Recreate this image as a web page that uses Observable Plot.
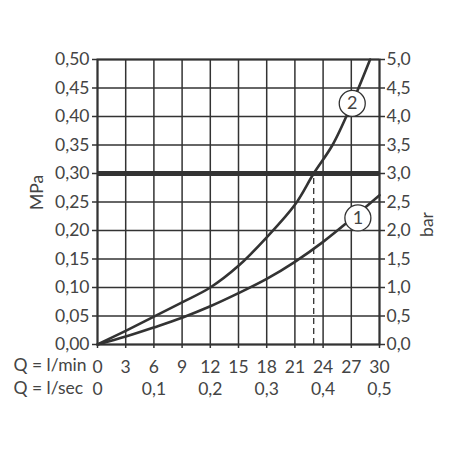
<!DOCTYPE html>
<html>
<head>
<meta charset="utf-8">
<script src="https://cdn.jsdelivr.net/npm/d3@7"></script>
<script src="https://cdn.jsdelivr.net/npm/@observablehq/plot@0.6"></script>
<style>
  body { margin: 0; background: #fff; }
</style>
</head>
<body>
<div id="chart"></div>
<script>
// Flow ticks (l/min) and their l/sec equivalents
const qTicksLmin = [0, 3, 6, 9, 12, 15, 18, 21, 24, 27, 30];
const qTicksLsec = [0, 6, 12, 18, 24, 30];
const pTicks = [0, 0.05, 0.10, 0.15, 0.20, 0.25, 0.30, 0.35, 0.40, 0.45, 0.50];

// Curve 1
const curve1Q = [0, 3, 6, 9, 12, 15, 18, 21, 24, 27, 30];
const curve1P = [0, 0.014, 0.030, 0.047, 0.067, 0.090, 0.115, 0.145, 0.180, 0.220, 0.262];
// Curve 2
const curve2Q = [0, 3, 6, 9, 12, 15, 18, 21, 23, 25, 27, 29];
const curve2P = [0, 0.024, 0.049, 0.074, 0.100, 0.138, 0.188, 0.245, 0.300, 0.350, 0.420, 0.500];

// Reference line and marker
const refPressure = [0.30];
const refFlow = [23];

// Curve labels
const labelNames = ["1", "2"];
const labelQ = [27.7, 27.1];
const labelP = [0.222, 0.423];

const ink = "#333";
const textInk = "#444";

const c1 = curve1Q.map((q, i) => ({q, p: curve1P[i]}));
const c2 = curve2Q.map((q, i) => ({q, p: curve2P[i]}));
const labels = labelNames.map((t, i) => ({t, q: labelQ[i], p: labelP[i]}));

const comma = (v, d) => v.toFixed(d).replace(".", ",");

const chart = Plot.plot({
  width: 450,
  height: 450,
  marginLeft: 97,
  marginRight: 71,
  marginTop: 59,
  marginBottom: 106,
  style: {fontFamily: "Lato, 'DejaVu Sans', sans-serif", fontSize: "17.5px", color: textInk, background: "#fff"},
  x: {domain: [0, 30]},
  y: {domain: [0, 0.5]},
  marks: [
    Plot.gridX(qTicksLmin, {stroke: ink, strokeOpacity: 1, strokeWidth: 1.5}),
    Plot.gridY(pTicks, {stroke: ink, strokeOpacity: 1, strokeWidth: 1.5}),
    Plot.frame({stroke: ink, strokeWidth: 2}),
    Plot.axisY(pTicks, {anchor: "left", tickSize: 5, tickPadding: 3, stroke: ink, strokeWidth: 1.5,
      tickFormat: d => comma(d, 2), label: null, fill: textInk}),
    Plot.axisY(pTicks, {anchor: "right", tickSize: 5, tickPadding: 2, stroke: ink, strokeWidth: 1.5,
      tickFormat: d => comma(d * 10, 1), label: null, fill: textInk}),
    Plot.axisX(qTicksLmin, {anchor: "bottom", tickSize: 4, tickPadding: 12, stroke: ink, strokeWidth: 1.5,
      tickFormat: d => String(d), label: null, fill: textInk}),
    Plot.axisX(qTicksLsec, {anchor: "bottom", tickSize: 0, tickPadding: 38,
      tickFormat: d => d === 0 ? "0" : comma(d / 60, 1), label: null, fill: textInk}),
    Plot.ruleY(refPressure, {stroke: ink, strokeWidth: 5}),
    Plot.ruleX(refFlow, {y1: 0, y2: refPressure[0], stroke: ink, strokeWidth: 1.3, strokeDasharray: "6,4"}),
    Plot.line(c1, {x: "q", y: "p", curve: "catmull-rom", stroke: ink, strokeWidth: 2.6}),
    Plot.line(c2, {x: "q", y: "p", curve: "catmull-rom", stroke: ink, strokeWidth: 2.6}),
    Plot.dot(labels, {x: "q", y: "p", r: 13, fill: "#fff", stroke: ink, strokeWidth: 1.3}),
    Plot.text(labels, {x: "q", y: "p", text: "t", fontSize: 18, fill: textInk}),
    Plot.text(["MPa"], {frameAnchor: "left", rotate: -90, dx: -60, dy: 8, fontSize: 17.5, fill: textInk}),
    Plot.text(["bar"], {frameAnchor: "right", rotate: -90, dx: 48, dy: 10, fontSize: 17.5, fill: textInk}),
    Plot.text(["Q = l/min"], {frameAnchor: "bottom-left", textAnchor: "start", dx: -84, dy: 26, fontSize: 17.5, fill: textInk}),
    Plot.text(["Q = l/sec"], {frameAnchor: "bottom-left", textAnchor: "start", dx: -84, dy: 49, fontSize: 17.5, fill: textInk})
  ]
});
document.getElementById("chart").appendChild(chart);
</script>
</body>
</html>
